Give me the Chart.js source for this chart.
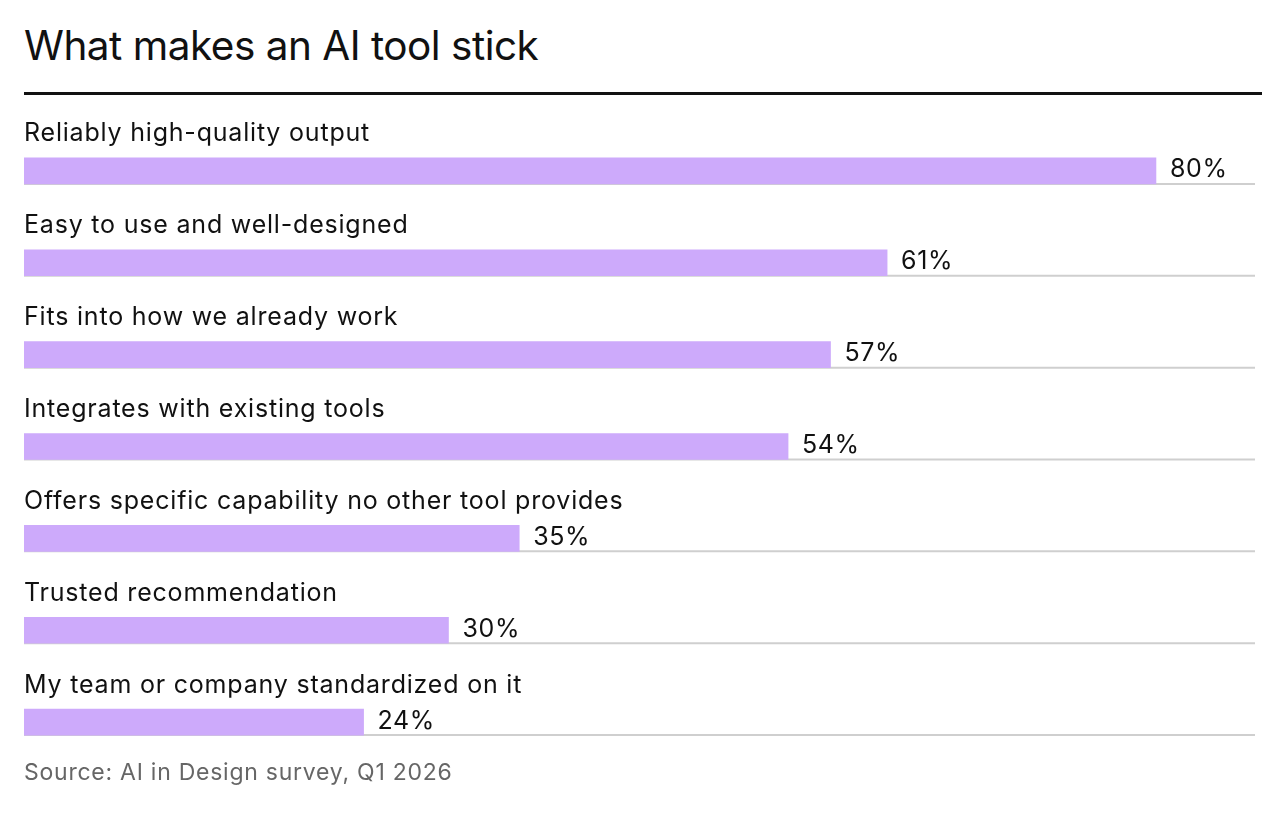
<!DOCTYPE html>
<html>
<head>
<meta charset="utf-8">
<script src="https://cdn.jsdelivr.net/npm/chart.js@4"></script>
<style>
  body { margin: 0; background: #fff; font-family: Inter, "Noto Sans", sans-serif; }
  #wrap { position: relative; width: 1280px; height: 835px; }
  #title { position: absolute; left: 24px; top: 21px; margin: 0; font-size: 40.5px; font-weight: 400; letter-spacing: -0.5px; color: #111; }
  #rule { position: absolute; left: 24px; top: 92px; width: 1238px; height: 3px; background: #111; }
  #source { position: absolute; left: 24px; top: 758px; font-size: 23px; letter-spacing: 0.75px; color: #666; }
  canvas { position: absolute; left: 0; top: 0; }
</style>
</head>
<body>
<div id="wrap">
  <h1 id="title">What makes an AI tool stick</h1>
  <div id="rule"></div>
  <canvas id="barChart" width="1280" height="835"></canvas>
  <div id="source">Source: AI in Design survey, Q1 2026</div>
</div>
<script>
const categories = [
  "Reliably high-quality output",
  "Easy to use and well-designed",
  "Fits into how we already work",
  "Integrates with existing tools",
  "Offers specific capability no other tool provides",
  "Trusted recommendation",
  "My team or company standardized on it"
];
const values = [80, 61, 57, 54, 35, 30, 24];

// labels above the bars, value after the bar, thin grey line under each row
const rowDecor = {
  id: 'rowDecor',
  beforeDatasetsDraw(chart) {
    const ctx = chart.ctx, y = chart.scales.y, area = chart.chartArea;
    ctx.save();
    ctx.strokeStyle = '#cfcfcf';
    ctx.lineWidth = 2;
    categories.forEach((c, i) => {
      const yy = y.getPixelForValue(i) + 13;
      ctx.beginPath();
      ctx.moveTo(area.left, yy);
      ctx.lineTo(area.right, yy);
      ctx.stroke();
    });
    ctx.restore();
  },
  afterDatasetsDraw(chart) {
    const ctx = chart.ctx, x = chart.scales.x, y = chart.scales.y, area = chart.chartArea;
    ctx.save();
    ctx.fillStyle = '#111';
    ctx.textBaseline = 'middle';
    ctx.textAlign = 'left';
    categories.forEach((c, i) => {
      const yy = y.getPixelForValue(i);
      ctx.font = '25px Inter, "Noto Sans", sans-serif';
      ctx.letterSpacing = '0.8px';
      ctx.fillText(c, area.left, yy - 37);
      ctx.letterSpacing = '0.6px';
      ctx.fillText(values[i] + '%', x.getPixelForValue(values[i]) + 14, yy - 1);
    });
    ctx.restore();
  }
};

new Chart(document.getElementById("barChart"), {
  type: 'bar',
  data: {
    labels: categories,
    datasets: [{
      data: values,
      backgroundColor: "#cdaafb",
      barThickness: 26
    }]
  },
  options: {
    indexAxis: 'y',
    responsive: false,
    animation: false,
    layout: { padding: { left: 24, right: 25, top: 125, bottom: 67 } },
    plugins: { legend: { display: false }, tooltip: { enabled: false } },
    scales: {
      x: { display: false, min: 0, max: 87 },
      y: { display: false }
    }
  },
  plugins: [rowDecor]
});
</script>
</body>
</html>
